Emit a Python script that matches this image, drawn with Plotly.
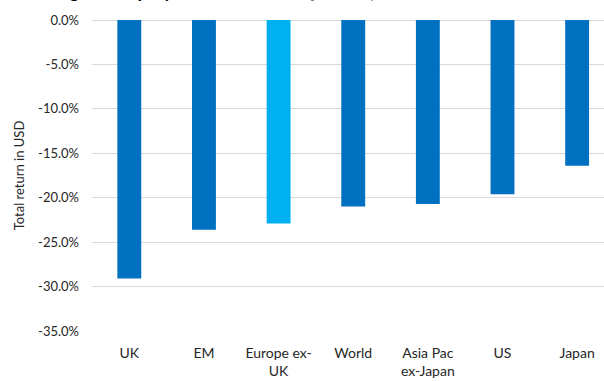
import plotly.graph_objects as go

categories = ["UK", "EM", "Europe ex-<br>UK", "World", "Asia Pac<br>ex-Japan", "US", "Japan"]
returns_pct = [-29.1, -23.6, -22.9, -21.0, -20.7, -19.6, -16.4]
bar_colors = ["#0070C0", "#0070C0", "#00B0F0", "#0070C0", "#0070C0", "#0070C0", "#0070C0"]
tick_values = [0, -5, -10, -15, -20, -25, -30, -35]
tick_labels = ["0.0%", "-5.0%", "-10.0%", "-15.0%", "-20.0%", "-25.0%", "-30.0%", "-35.0%"]
title_text = "Regional equity market returns Q1 2020, total return in USD"

font_family = "Lato, 'Open Sans', sans-serif"

fig = go.Figure(
    go.Bar(
        x=list(range(len(categories))),
        y=returns_pct,
        marker=dict(color=bar_colors, line=dict(width=0)),
        width=0.32,
    )
)

fig.add_annotation(
    text="<b>" + title_text + "</b>",
    xref="paper",
    yref="paper",
    x=0.387,
    y=1.0,
    xanchor="center",
    yanchor="bottom",
    yshift=16,
    showarrow=False,
    font=dict(size=18, color="#000000", family=font_family),
)

fig.update_layout(
    width=604,
    height=381,
    margin=dict(l=92, r=0, t=20, b=50),
    paper_bgcolor="white",
    plot_bgcolor="white",
    showlegend=False,
    font=dict(family=font_family, size=13, color="#262626"),
    xaxis=dict(
        tickmode="array",
        tickvals=list(range(len(categories))),
        ticktext=categories,
        range=[-0.5, 6.36],
        showgrid=False,
        zeroline=False,
        showline=False,
        ticks="",
        ticklabelstandoff=12,
        tickfont=dict(size=14, color="#262626"),
    ),
    yaxis=dict(
        range=[-35, 0],
        tickmode="array",
        tickvals=tick_values,
        ticktext=tick_labels,
        showgrid=True,
        gridcolor="#D9D9D9",
        gridwidth=1,
        zeroline=True,
        zerolinecolor="#D9D9D9",
        zerolinewidth=1,
        showline=False,
        ticks="",
        ticklabelstandoff=12,
        tickfont=dict(size=13, color="#262626"),
        title=dict(text="Total return in USD", font=dict(size=13, color="#262626"), standoff=10),
    ),
)

fig.write_html("out.html")
